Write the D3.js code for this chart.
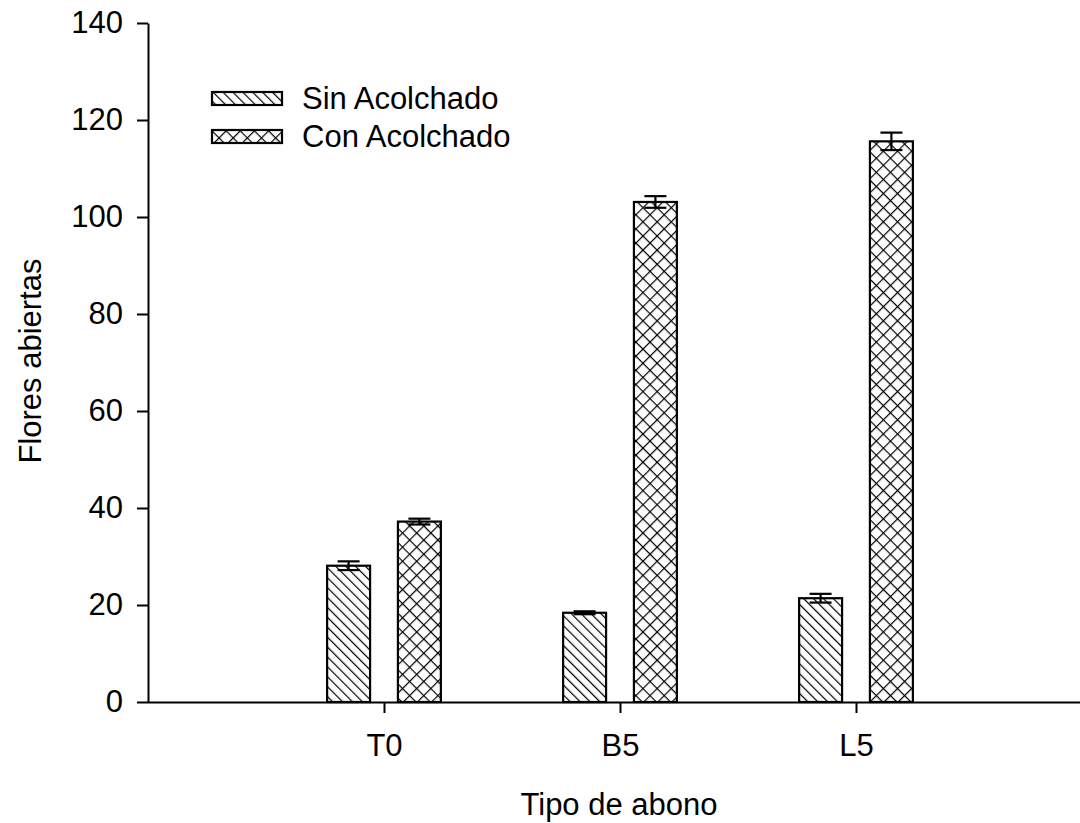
<!DOCTYPE html>
<html>
<head>
<meta charset="utf-8">
<script src="https://cdn.jsdelivr.net/npm/d3@7"></script>
<style>
  body { margin: 0; background: #fff; }
  svg { display: block; font-family: "Liberation Sans", Arial, sans-serif; }
</style>
</head>
<body>
<svg id="chart"></svg>
<script>
// Data
const categories = ['T0', 'B5', 'L5'];
const seriesNames = ['Sin Acolchado', 'Con Acolchado'];
const sinValues = [28.1, 18.4, 21.4];
const sinErrors = [0.9, 0.3, 0.9];
const conValues = [37.2, 103.1, 115.6];
const conErrors = [0.6, 1.2, 1.8];
const yTicks = [0, 20, 40, 60, 80, 100, 120, 140];

const width = 1080;
const height = 823;
const margin = { top: 23, right: 0, bottom: 121, left: 148 };
const innerHeight = height - margin.top - margin.bottom;
const fontSize = '31px';

const svg = d3.select('#chart')
  .attr('width', width)
  .attr('height', height);

// hatch patterns
const defs = svg.append('defs');
const diag = defs.append('pattern')
  .attr('id', 'hatchSin')
  .attr('patternUnits', 'userSpaceOnUse')
  .attr('width', 7).attr('height', 7)
  .attr('patternTransform', 'rotate(-45)');
diag.append('rect').attr('width', 7).attr('height', 7).attr('fill', '#fff');
diag.append('line')
  .attr('x1', 0).attr('y1', 0).attr('x2', 0).attr('y2', 7)
  .attr('stroke', '#000').attr('stroke-width', 2.4);

const cross = defs.append('pattern')
  .attr('id', 'hatchCon')
  .attr('patternUnits', 'userSpaceOnUse')
  .attr('width', 10).attr('height', 10)
  .attr('patternTransform', 'rotate(45)');
cross.append('rect').attr('width', 10).attr('height', 10).attr('fill', '#fff');
cross.append('line')
  .attr('x1', 0).attr('y1', 0).attr('x2', 0).attr('y2', 10)
  .attr('stroke', '#000').attr('stroke-width', 2.4);
cross.append('line')
  .attr('x1', 0).attr('y1', 0).attr('x2', 10).attr('y2', 0)
  .attr('stroke', '#000').attr('stroke-width', 2.4);

const g = svg.append('g')
  .attr('transform', `translate(${margin.left},${margin.top})`);

// x is a linear scale: categories sit at 1, 2, 3
const xScale = d3.scaleLinear()
  .domain([0, 4])
  .range([0, 944]);

const yScale = d3.scaleLinear()
  .domain([0, 140])
  .range([innerHeight, 0]);

const barW = 0.182;
const offset = 0.15;

const series = [
  { name: seriesNames[0], values: sinValues, errors: sinErrors, fill: 'url(#hatchSin)', shift: -offset },
  { name: seriesNames[1], values: conValues, errors: conErrors, fill: 'url(#hatchCon)', shift: offset }
];

series.forEach(s => {
  const rows = categories.map((c, i) => ({ i: i + 1, v: s.values[i], e: s.errors[i] }));

  g.selectAll(null)
    .data(rows)
    .enter()
    .append('rect')
    .attr('x', d => xScale(d.i + s.shift - barW / 2))
    .attr('y', d => yScale(d.v))
    .attr('width', d => xScale(d.i + s.shift + barW / 2) - xScale(d.i + s.shift - barW / 2))
    .attr('height', d => yScale(0) - yScale(d.v))
    .attr('fill', s.fill)
    .attr('stroke', '#000')
    .attr('stroke-width', 2.2);

  // error bars
  const capW = 11;
  const eb = g.selectAll(null)
    .data(rows)
    .enter()
    .append('g')
    .attr('stroke', '#000')
    .attr('stroke-width', 2.2);
  eb.append('line')
    .attr('x1', d => xScale(d.i + s.shift)).attr('x2', d => xScale(d.i + s.shift))
    .attr('y1', d => yScale(d.v - d.e)).attr('y2', d => yScale(d.v + d.e));
  eb.append('line')
    .attr('x1', d => xScale(d.i + s.shift) - capW).attr('x2', d => xScale(d.i + s.shift) + capW)
    .attr('y1', d => yScale(d.v + d.e)).attr('y2', d => yScale(d.v + d.e));
  eb.append('line')
    .attr('x1', d => xScale(d.i + s.shift) - capW).attr('x2', d => xScale(d.i + s.shift) + capW)
    .attr('y1', d => yScale(d.v - d.e)).attr('y2', d => yScale(d.v - d.e));
});

// y axis
const yAxis = g.append('g')
  .call(d3.axisLeft(yScale).tickValues(yTicks).tickSize(11).tickPadding(14).tickSizeOuter(0));
yAxis.selectAll('text')
  .attr('font-size', fontSize)
  .attr('font-family', '"Liberation Sans", Arial, sans-serif')
  .attr('fill', '#000');

// x axis
const xAxis = g.append('g')
  .attr('transform', `translate(0,${innerHeight})`)
  .call(d3.axisBottom(xScale)
    .tickValues([1, 2, 3])
    .tickFormat(d => categories[d - 1])
    .tickSize(11).tickPadding(21).tickSizeOuter(0));
xAxis.select('.domain').attr('d', `M0,0.5H${width - margin.left}`);
xAxis.selectAll('text')
  .attr('font-size', fontSize)
  .attr('font-family', '"Liberation Sans", Arial, sans-serif')
  .attr('fill', '#000');

svg.selectAll('.domain, .tick line')
  .attr('stroke', '#000')
  .attr('stroke-width', 2);

// axis titles
svg.append('text')
  .attr('x', 619)
  .attr('y', 815)
  .attr('text-anchor', 'middle')
  .attr('font-size', fontSize)
  .text('Tipo de abono');

svg.append('text')
  .attr('transform', 'rotate(-90)')
  .attr('x', -361)
  .attr('y', 41)
  .attr('text-anchor', 'middle')
  .attr('font-size', fontSize)
  .text('Flores abiertas');

// legend
const legend = svg.append('g').attr('transform', 'translate(212,92)');
series.forEach((s, i) => {
  const row = legend.append('g').attr('transform', `translate(0,${i * 38})`);
  row.append('rect')
    .attr('width', 70).attr('height', 13)
    .attr('fill', s.fill)
    .attr('stroke', '#000')
    .attr('stroke-width', 2.2);
  row.append('text')
    .attr('x', 90)
    .attr('y', 17)
    .attr('font-size', fontSize)
    .text(s.name);
});
</script>
</body>
</html>
